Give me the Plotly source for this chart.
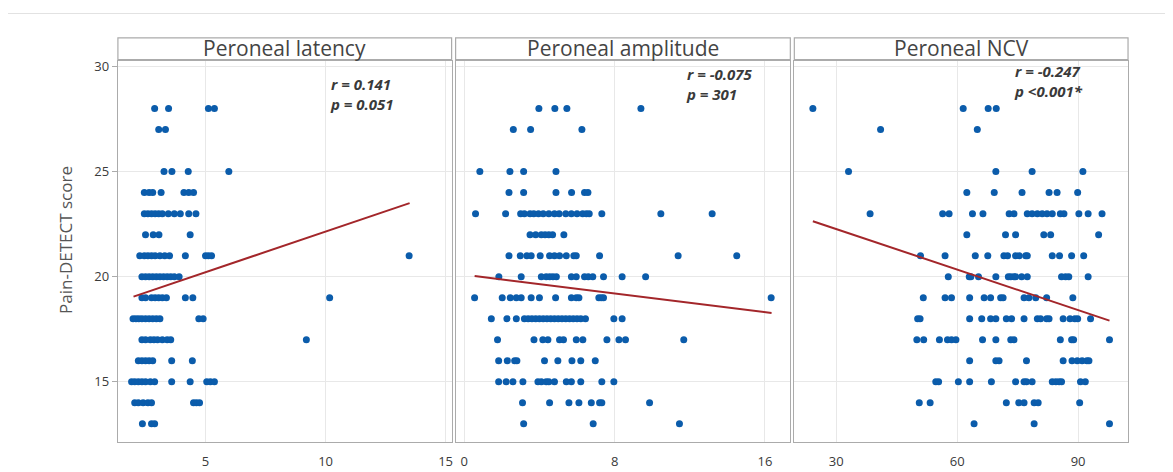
import plotly.graph_objects as go

OFF = 8  # page body margin
W, H = 1173 - OFF, 472 - OFF

panel_titles = ["Peroneal latency", "Peroneal amplitude", "Peroneal NCV"]
r_labels = ["r = 0.141", "r = -0.075", "r = -0.247"]
p_labels = ["p = 0.051", "p = 301", "p <0.001*"]

# Pain-DETECT score -> x values
latency = {
    28: [2.88, 3.46, 5.12, 5.37],
    27: [3.05, 3.33],
    25: [3.27, 3.60, 4.28, 5.97],
    24: [2.45, 2.65, 2.8, 3.15, 4.1, 4.3, 4.5],
    23: [2.45, 2.6, 2.75, 2.9, 3.05, 3.2, 3.45, 3.7, 3.95, 4.3, 4.6],
    22: [2.5, 2.82, 3.06, 4.36],
    21: [2.26, 2.45, 2.6, 2.75, 2.9, 3.1, 3.3, 3.5, 4.16, 5.0, 5.12, 5.25, 13.48],
    20: [2.35, 2.5, 2.65, 2.8, 2.95, 3.1, 3.25, 3.4, 3.55, 3.7, 3.9],
    19: [2.35, 2.5, 2.75, 2.9, 3.05, 3.2, 3.37, 4.16, 4.47, 10.17],
    18: [1.98, 2.1, 2.22, 2.35, 2.5, 2.65, 2.8, 2.95, 3.1, 4.72, 4.9],
    17: [2.35, 2.5, 2.7, 2.85, 3.0, 3.2, 3.4, 3.55, 9.2],
    16: [2.2, 2.35, 2.5, 2.65, 2.8, 3.59, 4.45],
    15: [1.92, 2.05, 2.2, 2.35, 2.5, 2.7, 2.88, 3.59, 4.36, 5.05, 5.2, 5.37],
    14: [2.05, 2.2, 2.4, 2.6, 2.75, 4.5, 4.62, 4.75],
    13: [2.37, 2.75, 2.88],
}

amplitude = {
    28: [3.97, 4.82, 5.46, 9.4],
    27: [2.61, 3.53, 6.26],
    25: [0.83, 2.43, 3.16, 4.88],
    24: [2.38, 3.16, 4.88, 5.71, 6.4, 6.58],
    23: [0.6, 2.2, 3.0, 3.2, 3.5, 3.7, 3.95, 4.2, 4.5, 4.8, 5.05, 5.4, 5.7, 6.0,
         6.3, 6.5, 6.65, 7.32, 10.46, 13.19],
    22: [3.5, 3.8, 4.1, 4.3, 4.5, 4.7, 5.3],
    21: [2.38, 2.98, 3.33, 3.56, 4.04, 4.54, 4.8, 5.07, 5.43, 5.83, 5.96, 7.2,
         11.38, 14.5],
    20: [1.84, 3.03, 4.1, 4.36, 4.55, 4.72, 4.9, 5.7, 5.96, 6.4, 6.6, 6.84,
         7.41, 8.4, 9.65],
    19: [0.55, 2.02, 2.45, 2.77, 3.03, 3.56, 4.0, 4.86, 5.7, 5.96, 6.1, 7.16,
         7.29, 7.41, 16.33],
    18: [1.44, 2.27, 2.77, 3.2, 3.4, 3.6, 3.8, 4.0, 4.2, 4.4, 4.6, 4.8, 5.0,
         5.2, 5.4, 5.6, 5.8, 6.0, 6.2, 6.45, 7.96, 8.4],
    17: [1.77, 3.71, 4.18, 4.45, 5.07, 5.28, 5.96, 6.31, 7.59, 8.23, 8.58, 11.68],
    16: [1.83, 2.29, 2.68, 2.8, 4.27, 4.98, 5.73, 6.2, 6.97],
    15: [1.83, 2.23, 2.59, 3.12, 3.92, 4.1, 4.36, 4.5, 4.8, 5.43, 5.7, 6.2,
         7.32, 7.96],
    14: [3.1, 4.54, 5.57, 6.1, 6.76, 7.2, 7.32, 9.86],
    13: [3.16, 6.86, 11.45],
}

ncv = {
    28: [24.2, 61.5, 67.7, 69.7],
    27: [41.0, 65.0],
    25: [33.05, 69.6, 78.6, 91.2],
    24: [62.4, 69.2, 76.1, 82.8, 84.8, 89.9],
    23: [38.4, 56.4, 58.0, 63.8, 66.4, 72.9, 74.1, 77.4, 78.6, 79.9, 81.1, 82.3,
         83.6, 85.6, 86.5, 90.2, 92.5, 95.95],
    22: [62.4, 72.0, 74.5, 81.5, 83.2, 95.1],
    21: [50.9, 57.0, 64.5, 67.6, 71.6, 72.5, 74.5, 75.4, 77.0, 77.4, 83.6, 85.4,
         88.4, 91.4],
    20: [57.8, 63.0, 63.4, 65.3, 69.6, 72.7, 73.3, 74.1, 74.5, 76.0, 77.4, 85.9,
         86.9, 87.7, 92.5],
    19: [51.6, 57.0, 58.6, 63.1, 66.7, 68.3, 70.8, 71.4, 76.6, 77.8, 79.5, 82.2,
         88.7],
    18: [50.2, 50.8, 63.1, 66.1, 68.3, 69.6, 72.2, 73.5, 76.6, 79.9, 80.7, 82.2,
         82.8, 86.3, 88.0, 89.2, 89.9, 93.1],
    17: [50.0, 51.7, 55.6, 57.6, 58.6, 59.7, 66.3, 69.6, 73.3, 74.1, 85.6, 88.4,
         88.9, 97.8],
    16: [63.1, 69.6, 70.4, 77.2, 86.3, 88.5, 89.8, 91.0, 92.2, 92.7],
    15: [54.7, 55.4, 60.3, 63.1, 68.5, 74.5, 76.6, 77.2, 78.6, 83.6, 84.5, 85.3,
         85.9, 90.6, 91.8],
    14: [50.6, 53.3, 72.2, 75.3, 76.6, 79.1, 80.1, 90.4],
    13: [64.2, 79.1, 97.8],
}

# fitted regression line endpoints
fit_x = [[2.0, 13.5], [0.55, 16.35], [24.2, 97.8]]
fit_y = [[19.05, 23.5], [20.03, 18.27], [22.64, 17.91]]

x_ticks = [[5, 10, 15], [0, 8, 16], [30, 60, 90]]
x_ranges = [[1.35, 15.25], [-0.46, 17.35], [19.6, 102.4]]
y_ticks = [15, 20, 25, 30]
y_range = [12.12, 30.26]

# pixel layout (screen coordinates)
panel_px = [(118, 452), (456, 791), (795, 1129)]
plot_top, plot_bot = 57.5, 442
head_top = 34
ann_px = [(328, 90.5), (685, 80.5), (1013, 78)]

def px(x):
    return (x - OFF) / W

def py(y):
    return 1 - (y - OFF) / H

DOT = "#0b5cab"
LINE = "#a3262a"
FRAME = "#ababab"
GRID = "#e8e8e8"
TXT = "#3a3a3a"
FONT = "Open Sans"

fig = go.Figure()
datasets = [latency, amplitude, ncv]
for i, d in enumerate(datasets):
    xs, ys = [], []
    for score, vals in d.items():
        for v in vals:
            xs.append(v)
            ys.append(score)
    sfx = "" if i == 0 else str(i + 1)
    fig.add_trace(go.Scatter(x=xs, y=ys, mode="markers", xaxis="x" + sfx, yaxis="y" + sfx,
                             marker=dict(color=DOT, size=7), showlegend=False))
    fig.add_trace(go.Scatter(x=fit_x[i], y=fit_y[i], mode="lines", xaxis="x" + sfx,
                             yaxis="y" + sfx, line=dict(color=LINE, width=2), showlegend=False))

layout = dict(
    width=W, height=H, margin=dict(l=0, r=0, t=0, b=0),
    paper_bgcolor="white", plot_bgcolor="white",
    font=dict(family=FONT, color=TXT),
    showlegend=False,
)
shapes = []
annotations = []
for i in range(3):
    sfx = "" if i == 0 else str(i + 1)
    x0, x1 = panel_px[i]
    layout["xaxis" + sfx] = dict(
        domain=[px(x0), px(x1)], range=x_ranges[i], anchor="y" + sfx,
        tickvals=x_ticks[i], ticks="", showgrid=True, gridcolor=GRID, gridwidth=1,
        showline=True, mirror=True, linecolor=FRAME, linewidth=1.2, zeroline=False,
        ticklabelstandoff=7,
        tickfont=dict(size=13, color=TXT, family=FONT),
    )
    layout["yaxis" + sfx] = dict(
        domain=[py(plot_bot), py(plot_top)], range=y_range, anchor="x" + sfx,
        tickvals=y_ticks, showgrid=True, gridcolor=GRID, gridwidth=1,
        showline=True, mirror=True, linecolor=FRAME, linewidth=1.2, zeroline=False,
        ticks="outside" if i == 0 else "", ticklen=5, tickcolor=FRAME,
        showticklabels=(i == 0), tickfont=dict(size=13, color=TXT, family=FONT),
    )
    # header strip
    shapes.append(dict(type="rect", xref="paper", yref="paper",
                       x0=px(x0), x1=px(x1), y0=py(plot_top - 1.5), y1=py(head_top),
                       line=dict(color=FRAME, width=1.2), fillcolor="white"))
    annotations.append(dict(text=panel_titles[i], xref="paper", yref="paper",
                            x=px((x0 + x1) / 2), y=py((head_top + plot_top) / 2 - 1),
                            showarrow=False, xanchor="center", yanchor="middle",
                            font=dict(size=21, color="#444444", family=FONT)))
    ax, ay = ann_px[i]
    annotations.append(dict(text="<b><i>" + r_labels[i] + "<br>" + p_labels[i] + "</i></b>",
                            xref="paper", yref="paper", align="left",
                            x=px(ax), y=py(ay), showarrow=False, xanchor="left", yanchor="middle",
                            font=dict(size=15, color=TXT, family=FONT)))

annotations.append(dict(text="Pain-DETECT score", xref="paper", yref="paper",
                        x=px(65), y=py(238), showarrow=False, textangle=-90,
                        xanchor="center", yanchor="middle",
                        font=dict(size=17, color="#555555", family=FONT)))

# outer light frame
shapes.append(dict(type="line", xref="paper", yref="paper", x0=px(7), x1=1, y0=py(9.5), y1=py(9.5),
                   line=dict(color="#e2e2e2", width=1)))
shapes.append(dict(type="line", xref="paper", yref="paper", x0=px(7.5), x1=px(7.5), y0=0, y1=py(9.5),
                   line=dict(color="#e2e2e2", width=1)))

layout["shapes"] = shapes
layout["annotations"] = annotations
fig.update_layout(**layout)
fig.write_html("out.html")
